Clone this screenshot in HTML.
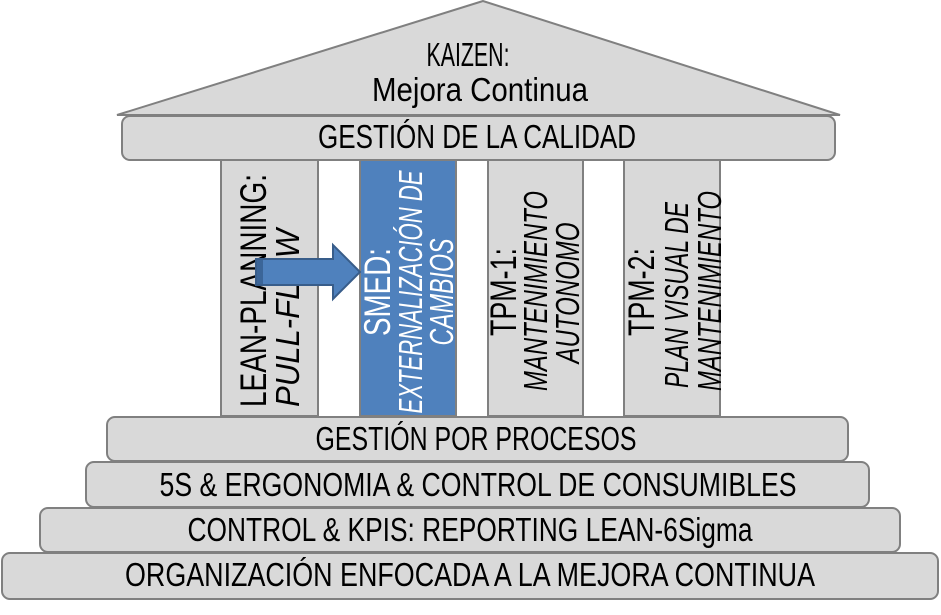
<!DOCTYPE html>
<html><head><meta charset="utf-8"><style>html,body{margin:0;padding:0;background:#fff}svg{display:block}
.b{font-size:28px}.p{font-size:31px}.i{font-size:28px;font-style:italic}</style></head>
<body>
<svg width="941" height="615" viewBox="0 0 941 615" xmlns="http://www.w3.org/2000/svg" style="font-family:'Liberation Sans',sans-serif">
<g fill="#d9d9d9" stroke="#808080" stroke-width="2">
<polygon points="483,1 117,115 840,115"/>
<rect x="122" y="116" width="713" height="44" rx="8"/>
<rect x="221" y="160" width="97" height="256"/>
<rect x="360" y="160" width="96" height="256" fill="#4f81bd" stroke="#808080"/>
<rect x="488" y="160" width="95" height="256"/>
<rect x="624" y="160" width="96" height="256"/>
<rect x="107" y="417" width="741" height="44" rx="8"/>
<rect x="86" y="462" width="783" height="45" rx="8"/>
<rect x="40" y="508" width="860" height="44" rx="8"/>
<rect x="2" y="553" width="936" height="46" rx="8"/>
</g>
<g text-anchor="middle" fill="#000">
<text class="b" transform="translate(468,66) scale(1,1.2)" textLength="83" lengthAdjust="spacingAndGlyphs">KAIZEN:</text>
<text class="b" transform="translate(480,101) scale(1,1.2)" textLength="216" lengthAdjust="spacingAndGlyphs">Mejora Continua</text>
<text class="b" transform="translate(477,148) scale(1,1.2)" textLength="318" lengthAdjust="spacingAndGlyphs">GESTIÓN DE LA CALIDAD</text>
<text class="b" transform="translate(476,450) scale(1,1.2)" textLength="321" lengthAdjust="spacingAndGlyphs">GESTIÓN POR PROCESOS</text>
<text class="b" transform="translate(478,496) scale(1,1.2)" textLength="637" lengthAdjust="spacingAndGlyphs">5S &amp; ERGONOMIA &amp; CONTROL DE CONSUMIBLES</text>
<text class="b" transform="translate(470,541) scale(1,1.2)" textLength="565" lengthAdjust="spacingAndGlyphs">CONTROL &amp; KPIS: REPORTING LEAN-6Sigma</text>
<text class="b" transform="translate(470,586) scale(1,1.2)" textLength="690" lengthAdjust="spacingAndGlyphs">ORGANIZACIÓN ENFOCADA A LA MEJORA CONTINUA</text>
</g>
<g fill="#000">
<text class="p" transform="translate(266,407) rotate(-90) scale(1,1.2)" textLength="233" lengthAdjust="spacingAndGlyphs">LEAN-PLANNING:</text>
<text class="i" transform="translate(299,407) rotate(-90) scale(1,1.2)" textLength="178" lengthAdjust="spacingAndGlyphs">PULL-FLOW</text>
</g>
<g text-anchor="middle" fill="#000">
<text class="p" transform="translate(390,292) rotate(-90) scale(1,1.2)" fill="#fff" textLength="88" lengthAdjust="spacingAndGlyphs">SMED:</text>
<text class="i" transform="translate(422,292) rotate(-90) scale(1,1.2)" fill="#fff" textLength="243" lengthAdjust="spacingAndGlyphs">EXTERNALIZACIÓN DE</text>
<text class="i" transform="translate(453,292) rotate(-90) scale(1,1.2)" fill="#fff" textLength="107" lengthAdjust="spacingAndGlyphs">CAMBIOS</text>
<text class="p" transform="translate(516,292) rotate(-90) scale(1,1.2)" textLength="88" lengthAdjust="spacingAndGlyphs">TPM-1:</text>
<text class="i" transform="translate(547,291) rotate(-90) scale(1,1.2)" textLength="200" lengthAdjust="spacingAndGlyphs">MANTENIMIENTO</text>
<text class="i" transform="translate(579,293) rotate(-90) scale(1,1.2)" textLength="141" lengthAdjust="spacingAndGlyphs">AUTONOMO</text>
<text class="p" transform="translate(654,292) rotate(-90) scale(1,1.2)" textLength="88" lengthAdjust="spacingAndGlyphs">TPM-2:</text>
<text class="i" transform="translate(688,295) rotate(-90) scale(1,1.2)" textLength="186" lengthAdjust="spacingAndGlyphs">PLAN VISUAL DE</text>
<text class="i" transform="translate(721,291) rotate(-90) scale(1,1.2)" textLength="200" lengthAdjust="spacingAndGlyphs">MANTENIMIENTO</text>
</g>
<polygon points="256,259 333,259 333,245 360,272 333,299 333,285 256,285" fill="#4f81bd" stroke="#385d8a" stroke-width="2"/>
<rect x="257" y="260" width="6" height="24" fill="#3b6598"/>
</svg>
</body></html>
